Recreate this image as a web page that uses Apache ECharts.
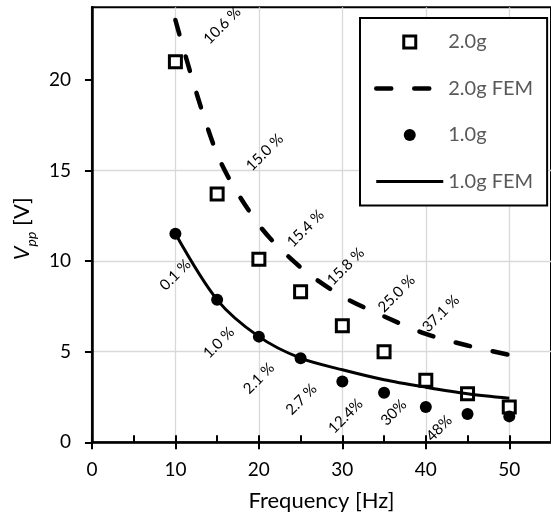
<!DOCTYPE html>
<html>
<head>
<meta charset="utf-8">
<script src="https://cdn.jsdelivr.net/npm/echarts@6/dist/echarts.min.js"></script>
<style>
  html, body { margin: 0; padding: 0; background: #fff; }
  #chart { width: 551px; height: 518px; }
</style>
</head>
<body>
<div id="chart"></div>
<script>
// Excitation frequency [Hz]
const freq = [10, 15, 20, 25, 30, 35, 40, 45, 50];

// Measured peak-to-peak voltage [V]
const meas2g = [21.0, 13.7, 10.1, 8.3, 6.43, 5.0, 3.42, 2.68, 1.95];
const meas1g = [11.5, 7.86, 5.83, 4.64, 3.35, 2.73, 1.95, 1.56, 1.43];

// FEM prediction [V]
const fem2g = [23.3, 15.9, 12.0, 9.65, 8.05, 6.95, 5.98, 5.34, 4.82];
const fem1g = [11.5, 7.86, 5.83, 4.64, 4.0, 3.45, 3.04, 2.68, 2.43];

// Deviation between FEM and measurement, with where each note sits (Hz, V)
const dev2gText = ['10.6 %', '15.0 %', '15.4 %', '15.8 %', '25.0 %', '37.1 %'];
const dev2gAt = [[15.6, 23.0], [20.7, 16.0], [25.6, 11.8], [30.4, 9.7], [36.5, 8.2], [41.8, 7.1]];
const dev1gText = ['0.1 %', '1.0 %', '2.1 %', '2.7 %', '12.4%', '30%', '48%'];
const dev1gAt = [[10.0, 9.24], [15.2, 5.5], [20.0, 3.53], [25.1, 2.37], [30.4, 1.45], [36.15, 1.64], [41.6, 0.77]];

// Axis tick values
const xTicks = [0, 10, 20, 30, 40, 50];
const yTicks = [0, 5, 10, 15, 20];

const FONT = 'Lato';
const pairs = (xs, ys) => xs.map((x, i) => [x, ys[i]]);

// legend swatch: a 12 px square centred in the 67 x 12 icon box
const SQUARE_ICON = 'path://M0,0M67,12M27.5,0h12v12h-12Z';

const devSeries = (at, text) => ({
  type: 'scatter',
  name: 'dev',
  symbolSize: 0,
  silent: true,
  z: 5,
  itemStyle: { opacity: 1 },
  data: at.map((p, i) => ({ value: p, label: { formatter: text[i] } })),
  label: {
    show: true,
    position: 'inside',
    rotate: 45,
    align: 'center',
    verticalAlign: 'middle',
    fontFamily: FONT,
    fontSize: 15,
    color: '#000'
  }
});

const chart = echarts.init(document.getElementById('chart'), null, { renderer: 'canvas' });

chart.setOption({
  animation: false,
  backgroundColor: '#fff',
  grid: {
    left: 86.7, top: 7.3, right: -3.2, bottom: 75.7,
    show: true, borderColor: '#000', borderWidth: 2, backgroundColor: 'transparent',
    containLabel: false
  },
  legend: {
    orient: 'vertical',
    left: 360, top: 18,
    padding: [14, 14, 14, 14],
    itemWidth: 67, itemHeight: 12, itemGap: 26.5,
    backgroundColor: '#fff',
    borderColor: '#000', borderWidth: 2,
    textStyle: { fontFamily: FONT, fontSize: 20, color: '#595959' },
    data: [
      { name: '2.0g', icon: SQUARE_ICON, itemStyle: { color: '#fff', borderColor: '#000', borderWidth: 3, opacity: 1 } },
      { name: '2.0g FEM', itemStyle: { color: 'transparent', borderWidth: 0, opacity: 0 },
        lineStyle: { width: 4.5, color: '#000', type: [15, 23], cap: 'round', opacity: 1 } },
      { name: '1.0g', icon: 'circle', itemStyle: { color: '#000', borderWidth: 0, opacity: 1 } },
      { name: '1.0g FEM', itemStyle: { color: 'transparent', borderWidth: 0, opacity: 0 },
        lineStyle: { width: 3, color: '#000', opacity: 1 } }
    ]
  },
  xAxis: [
    {
      type: 'value', min: 0, max: 55, interval: 10, position: 'bottom',
      axisLine: { lineStyle: { color: '#000', width: 2.5 } },
      axisTick: { show: true, inside: false, length: 7, customValues: xTicks, lineStyle: { color: '#000', width: 2 } },
      axisLabel: { customValues: xTicks, margin: 18, fontFamily: FONT, fontSize: 19, color: '#000' },
      splitLine: { show: true, lineStyle: { color: '#d9d9d9', width: 1.3 } },
      name: 'Frequency [Hz]', nameLocation: 'middle', nameGap: 48,
      nameTextStyle: { fontFamily: FONT, fontSize: 22, color: '#000' }
    },
    {
      type: 'value', min: 0, max: 55, interval: 5, position: 'bottom',
      axisLine: { show: false },
      axisTick: { show: true, inside: true, length: 7, lineStyle: { color: '#000', width: 2 } },
      axisLabel: { show: false },
      splitLine: { show: false }
    }
  ],
  yAxis: [
    {
      type: 'value', min: 0, max: 24, interval: 5,
      axisLine: { lineStyle: { color: '#000', width: 2.5 } },
      axisTick: { show: true, inside: false, length: 7, customValues: yTicks, lineStyle: { color: '#000', width: 2 } },
      axisLabel: { customValues: yTicks, margin: 21, fontFamily: FONT, fontSize: 19, color: '#000' },
      splitLine: { show: true, showMaxLine: false, lineStyle: { color: '#d9d9d9', width: 1.3 } },
      name: '{v|V}{s|pp}{b| [V]}', nameLocation: 'middle', nameGap: 49,
      nameTextStyle: {
        fontFamily: FONT, fontSize: 22, color: '#000', padding: [0, 8, 0, 0],
        rich: {
          v: { fontFamily: FONT, fontSize: 22, fontStyle: 'italic', lineHeight: 28, color: '#000' },
          s: { fontFamily: FONT, fontSize: 14, fontStyle: 'italic', lineHeight: 14, verticalAlign: 'top', padding: [16, 0, 0, 0], color: '#000' },
          b: { fontFamily: FONT, fontSize: 22, lineHeight: 28, color: '#000' }
        }
      }
    },
    {
      type: 'value', min: 0, max: 24, interval: 5,
      axisLine: { show: false },
      axisTick: { show: true, inside: true, length: 7, customValues: yTicks, lineStyle: { color: '#000', width: 2 } },
      axisLabel: { show: false },
      splitLine: { show: false }
    }
  ],
  series: [
    {
      type: 'scatter', name: '2.0g', data: pairs(freq, meas2g),
      symbol: 'rect', symbolSize: 12,
      itemStyle: { color: '#fff', borderColor: '#000', borderWidth: 3, opacity: 1 }, z: 3
    },
    {
      type: 'line', name: '2.0g FEM', data: pairs(freq, fem2g),
      symbol: 'none', smooth: 0.3,
      itemStyle: { color: '#000' },
      lineStyle: { color: '#000', width: 4.5, type: [15, 23], cap: 'round' }, z: 3
    },
    {
      type: 'scatter', name: '1.0g', data: pairs(freq, meas1g),
      symbol: 'circle', symbolSize: 12,
      itemStyle: { color: '#000', opacity: 1 }, z: 4
    },
    {
      type: 'line', name: '1.0g FEM', data: pairs(freq, fem1g),
      symbol: 'none', smooth: 0.3,
      itemStyle: { color: '#000' },
      lineStyle: { color: '#000', width: 3 }, z: 4
    },
    devSeries(dev2gAt, dev2gText),
    devSeries(dev1gAt, dev1gText)
  ]
});
</script>
</body>
</html>
